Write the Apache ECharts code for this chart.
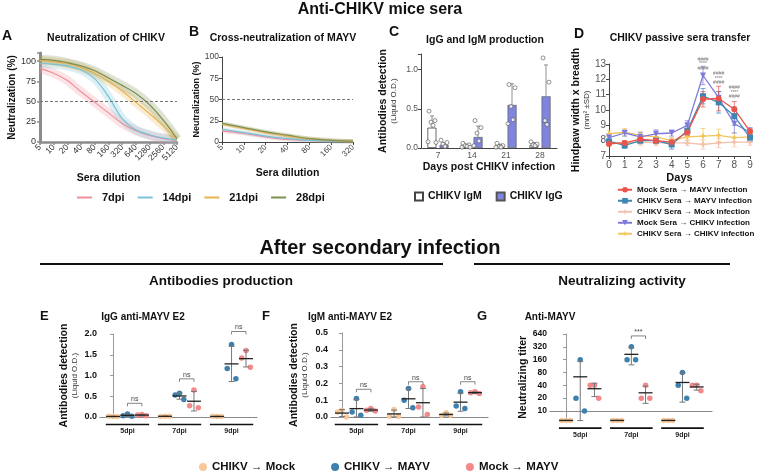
<!DOCTYPE html>
<html>
<head>
<meta charset="utf-8">
<script src="https://cdn.jsdelivr.net/npm/echarts@6/dist/echarts.min.js"></script>
<style>
html, body { margin: 0; padding: 0; background: #fff; }
#chart { width: 760px; height: 471px; }
</style>
</head>
<body>
<div id="chart"></div>
<script>
var FONT = '"Liberation Sans", Arial, Helvetica, sans-serif';

// A / B : neutralization curves (% neutralization per sera dilution)
var dilA = ['5', '10', '20', '40', '80', '160', '320', '640', '1280', '2560', '5120'];
var dilB = ['5', '10', '20', '40', '80', '160', '320'];
var dpiNames = ['7dpi', '14dpi', '21dpi', '28dpi'];
var dpiColors = ['#ee8f9b', '#79c2d6', '#e8b24e', '#7d8f52'];
var neutA7 = [91, 85, 76, 62, 49, 36, 23, 14, 8, 4, 2];
var neutA14 = [97, 96, 94, 89, 78, 56, 29, 15, 9, 5, 2];
var neutA21 = [101, 99, 97, 92, 85, 75, 63, 49, 35, 20, 3];
var neutA28 = [102, 101, 98, 94, 88, 79, 70, 60, 46, 27, 4];
var neutB7 = [13, 10, 6, 3, 2, 1, 0.5];
var neutB14 = [15, 11, 7, 4, 2, 1, 0.5];
var neutB21 = [21, 16, 11, 7, 4, 2, 1];
var neutB28 = [22, 17, 12, 8, 4, 2, 1];

// C : IgG / IgM (OD)
var cDays = ['7', '14', '21', '28'];
var cIgM = [0.26, 0.03, 0.03, 0.04];
var cIgMSd = [0.15, 0.02, 0.02, 0.03];
var cIgG = [0.04, 0.14, 0.55, 0.66];
var cIgGSd = [0.03, 0.14, 0.27, 0.40];
var cIgMPts = [[0.47, 0.35, 0.33, 0.29, 0.08, 0.07], [0.06, 0.04, 0.03, 0.02, 0.01, 0.01], [0.06, 0.03, 0.02, 0.01, 0.01], [0.08, 0.05, 0.04, 0.03]];
var cIgGPts = [[0.10, 0.07, 0.05, 0.02], [0.35, 0.26, 0.19, 0.09, 0.03], [0.81, 0.77, 0.53, 0.36, 0.31], [1.15, 0.84, 0.35, 0.30]];

// D : hindpaw swelling
var days = [0, 1, 2, 3, 4, 5, 6, 7, 8, 9];
var dMockMayv = [7.8, 7.85, 8.1, 8.0, 7.9, 8.55, 10.7, 10.75, 10.05, 8.6];
var dMockMayvSd = [0.15, 0.15, 0.2, 0.15, 0.2, 0.2, 0.5, 0.8, 0.5, 0.2];
var dChikvMayv = [7.95, 7.7, 8.0, 8.0, 7.75, 8.65, 10.9, 10.5, 9.6, 8.2];
var dChikvMayvSd = [0.15, 0.2, 0.2, 0.2, 0.3, 0.3, 0.5, 0.7, 0.6, 0.25];
var dChikvMock = [7.9, 7.85, 7.9, 7.85, 7.85, 7.85, 7.75, 7.85, 7.9, 7.9];
var dChikvMockSd = [0.15, 0.15, 0.2, 0.15, 0.15, 0.15, 0.3, 0.3, 0.3, 0.2];
var dMockChikv = [8.2, 8.5, 8.25, 8.45, 8.5, 9.0, 12.25, 10.8, 9.1, 8.55];
var dMockChikvSd = [0.2, 0.2, 0.3, 0.25, 0.2, 0.3, 0.6, 0.4, 0.6, 0.3];
var dChikvChikv = [8.45, 8.55, 8.35, 8.25, 8.0, 8.25, 8.3, 8.35, 8.2, 8.25];
var dChikvChikvSd = [0.2, 0.25, 0.2, 0.2, 0.2, 0.2, 0.5, 0.4, 0.3, 0.2];
var dSigDays = [6, 7, 8];
var dSigY = [13.0, 12.05, 11.15];

// E / F / G : after secondary infection, per group [5dpi, 7dpi, 9dpi]
var grpLabels = ['5dpi', '7dpi', '9dpi'];
var dotNames = ['CHIKV \u2192 Mock', 'CHIKV \u2192 MAYV', 'Mock \u2192 MAYV'];
var eMock = [[0.01, 0.02, 0.01], [0.02, 0.01, 0.02], [0.01, 0.02, 0.01]];
var eChikvMayv = [[0.07, 0.03, 0.02], [0.57, 0.53, 0.42], [1.75, 1.17, 0.92]];
var eMockMayv = [[0.06, 0.05, 0.03], [0.65, 0.27, 0.22], [1.60, 1.42, 1.20]];
var eNs = [0.33, 0.92, 2.06];
var fMock = [[0.04, 0.03, 0.0], [0.045, 0.005, 0.005], [0.025, 0.01, 0.01]];
var fChikvMayv = [[0.11, 0.03, 0.01], [0.17, 0.10, 0.055], [0.15, 0.065, 0.05]];
var fMockMayv = [[0.05, 0.04, 0.035], [0.18, 0.06, 0.015], [0.15, 0.145, 0.14]];
var fNs = [0.165, 0.21, 0.21];
// titers; 6 = below detection (drawn on the axis)
var gMock = [[6, 6, 6], [6, 6, 6], [6, 6, 6]];
var gChikvMayv = [[160, 20, 10], [320, 160, 160], [80, 40, 20]];
var gMockMayv = [[40, 40, 20], [40, 20, 20], [40, 40, 30]];
var gSigGroup = [1];
var gSigY = [5.85];
var gTickLabels = ['10', '20', '40', '80', '160', '320', '640'];

var GROUP_STEP = 3.6;
var jit = [0, -0.3, 0.3];
var cJit = [-3, 3, -1, 1, -4, 4];
var dotColors = ['#f8c89a', '#3d80ad', '#f2898a'];

function mean(a) { var s = 0; a.forEach(function (v) { s += v; }); return s / a.length; }
function sd(a) { var m = mean(a), s = 0; a.forEach(function (v) { s += (v - m) * (v - m); }); return Math.sqrt(s / (a.length - 1)); }
function bold(sz) { return { fontFamily: FONT, fontWeight: 'bold', fontSize: sz, color: '#111' }; }

var chart = echarts.init(document.getElementById('chart'));

var grid = [
  { left: 40, top: 53, width: 137, height: 89 },
  { left: 222, top: 57, width: 131, height: 85 },
  { left: 421, top: 54, width: 136, height: 94 },
  { left: 609, top: 64, width: 141, height: 92 },
  { left: 100, top: 334, width: 157, height: 83 },
  { left: 331, top: 333, width: 157, height: 84 },
  { left: 550, top: 334, width: 162, height: 86.6 }
];

var grayAxis = { lineStyle: { color: '#8c8c8c', width: 2.5 } };
var thinAxis = { lineStyle: { color: '#444', width: 1 } };
var lbl = function (sz, col) { return { fontFamily: FONT, fontSize: sz, color: col || '#444' }; };

var xAxis = [
  { gridIndex: 0, type: 'category', data: dilA, boundaryGap: false, axisLine: grayAxis,
    axisTick: { length: 3, lineStyle: { color: '#8c8c8c', width: 1.5 } },
    axisLabel: Object.assign(lbl(8.5, '#333'), { rotate: 45, margin: 4, interval: 0 }),
    name: 'Sera dilution', nameLocation: 'middle', nameGap: 31, nameTextStyle: bold(10.5) },
  { gridIndex: 1, type: 'category', data: dilB, boundaryGap: false, axisLine: thinAxis,
    axisTick: { length: 3 }, axisLabel: Object.assign(lbl(8), { rotate: 45, margin: 4, interval: 0 }),
    name: 'Sera dilution', nameLocation: 'middle', nameGap: 26, nameTextStyle: bold(10.5) },
  { gridIndex: 2, type: 'category', data: cDays, axisLine: thinAxis,
    axisTick: { alignWithLabel: true, length: 3 }, axisLabel: Object.assign(lbl(8.5, '#555'), { margin: 3 }),
    name: 'Days post CHIKV infection', nameLocation: 'middle', nameGap: 14, nameTextStyle: bold(10.5) },
  { gridIndex: 3, type: 'value', min: 0, max: 9, interval: 1, axisLine: thinAxis, splitLine: { show: false },
    axisTick: { length: 3 }, axisLabel: Object.assign(lbl(10, '#555'), { margin: 4 }),
    name: 'Days', nameLocation: 'middle', nameGap: 16, nameTextStyle: bold(11) },
  { gridIndex: 4, type: 'value', min: -0.9, max: 9.96, axisLine: { lineStyle: { color: '#888', width: 1.2 } },
    axisTick: { show: false }, axisLabel: { show: false }, splitLine: { show: false } },
  { gridIndex: 5, type: 'value', min: -0.76, max: 10.1, axisLine: { lineStyle: { color: '#888', width: 1.2 } },
    axisTick: { show: false }, axisLabel: { show: false }, splitLine: { show: false } },
  { gridIndex: 6, type: 'value', min: -1.13, max: 10.28, axisLine: { lineStyle: { color: '#888', width: 1.2 } },
    axisTick: { show: false }, axisLabel: { show: false }, splitLine: { show: false } }
];

function twoLine(a, b, sa, sb) {
  return { name: '{a|' + a + '}\n{b|' + b + '}', nameLocation: 'middle', nameRotate: 90,
    nameTextStyle: { fontFamily: FONT, color: '#111', rich: {
      a: { fontFamily: FONT, fontWeight: 'bold', fontSize: sa, color: '#111', lineHeight: sa + 1 },
      b: { fontFamily: FONT, fontSize: sb, color: '#333', lineHeight: sb + 2 } } } };
}

var yAxis = [
  { gridIndex: 0, type: 'value', min: 0, max: 110, interval: 25, axisLine: { show: true, lineStyle: { color: '#8c8c8c', width: 3 } },
    axisTick: { show: true, length: 3, lineStyle: { color: '#8c8c8c', width: 1.5 } }, splitLine: { show: false },
    axisLabel: Object.assign(lbl(9, '#333'), { margin: 4, formatter: function (v) { return v <= 100 ? String(v) : ''; } }),
    name: 'Neutralization (%)', nameLocation: 'middle', nameRotate: 90, nameGap: 21, nameTextStyle: bold(10) },
  { gridIndex: 1, type: 'value', min: 0, max: 100, interval: 25, axisLine: Object.assign({ show: true }, thinAxis),
    axisTick: { show: true, length: 3 }, splitLine: { show: false }, axisLabel: Object.assign(lbl(8.5), { margin: 3 }),
    name: 'Neutralization (%)', nameLocation: 'middle', nameRotate: 90, nameGap: 21, nameTextStyle: bold(9) },
  Object.assign({ gridIndex: 2, type: 'value', min: 0, max: 1.2, interval: 0.5, axisLine: Object.assign({ show: true }, thinAxis),
    axisTick: { show: true, length: 3 }, splitLine: { show: false },
    axisLabel: Object.assign(lbl(8.5, '#555'), { margin: 3, formatter: function (v) { return (v === 0 || v === 0.5 || v === 1) ? v.toFixed(1) : ''; } }),
    nameGap: 22 }, twoLine('Antibodies detection', '(Liquid O.D.)', 10.5, 8)),
  Object.assign({ gridIndex: 3, type: 'value', min: 7, max: 13, interval: 1, axisLine: Object.assign({ show: true }, thinAxis),
    axisTick: { show: true, length: 3 }, splitLine: { show: false }, axisLabel: Object.assign(lbl(10, '#555'), { margin: 3 }),
    nameGap: 14 }, twoLine('Hindpaw width x breadth', '(mm\u00b2 \u00b1SD)', 10.5, 8)),
  Object.assign({ gridIndex: 4, type: 'value', min: 0, max: 2, interval: 0.5, axisLine: { show: true, lineStyle: { color: '#999' } },
    axisTick: { show: true, length: 3 }, splitLine: { show: false },
    axisLabel: Object.assign(bold(9), { margin: 3, formatter: function (v) { return v.toFixed(1); } }),
    nameGap: 20 }, twoLine('Antibodies detection', '(Liquid O.D.)', 10.5, 8)),
  Object.assign({ gridIndex: 5, type: 'value', min: 0, max: 0.5, interval: 0.1, axisLine: { show: true, lineStyle: { color: '#999' } },
    axisTick: { show: true, length: 3 }, splitLine: { show: false },
    axisLabel: Object.assign(bold(9), { margin: 3, formatter: function (v) { return v.toFixed(1); } }),
    nameGap: 21 }, twoLine('Antibodies detection', '(Liquid O.D.)', 10.5, 8)),
  { gridIndex: 6, type: 'value', min: -0.75, max: 6, splitNumber: 7, axisLine: { show: true, lineStyle: { color: '#999' } },
    axisTick: { show: true, length: 3 }, splitLine: { show: false },
    axisLabel: Object.assign(bold(8.5), { margin: 3, formatter: function (v) { return gTickLabels[v] || ''; } }),
    name: 'Neutralizing titer', nameLocation: 'middle', nameRotate: 90, nameGap: 19, nameTextStyle: bold(10.5) }
];

var series = [];

// A & B
[[neutA7, neutA14, neutA21, neutA28], [neutB7, neutB14, neutB21, neutB28]].forEach(function (sets, p) {
  sets.forEach(function (vals, i) {
    series.push({ type: 'line', name: dpiNames[i], xAxisIndex: p, yAxisIndex: p, data: vals, smooth: 0.4,
      symbol: 'none', lineStyle: { color: dpiColors[i], width: 1.2 }, itemStyle: { color: dpiColors[i] }, z: 3,
      markLine: i === 0 ? { silent: true, symbol: 'none', label: { show: false },
        lineStyle: { color: '#777', type: [3, 2], width: 1 }, data: [{ yAxis: 50 }] } : undefined });
    series.push({ type: 'line', name: dpiNames[i], xAxisIndex: p, yAxisIndex: p, data: vals, smooth: 0.4,
      symbol: 'none', silent: true, lineStyle: { color: dpiColors[i], width: p === 0 ? 9 : 4, opacity: 0.25, cap: 'butt' },
      itemStyle: { color: dpiColors[i] }, z: 1 });
  });
});

// C
function barErr(off) {
  return function (params, api) {
    var c = api.value(0), m = api.value(1), s = api.value(2);
    var p0 = api.coord([c, m]), p1 = api.coord([c, m + s]);
    var x = p0[0] + off, st = { stroke: '#777', lineWidth: 0.8 };
    return { type: 'group', children: [
      { type: 'line', shape: { x1: x, y1: p0[1], x2: x, y2: p1[1] }, style: st },
      { type: 'line', shape: { x1: x - 2, y1: p1[1], x2: x + 2, y2: p1[1] }, style: st }
    ] };
  };
}
function cPoints(pts, off) {
  var out = [];
  pts.forEach(function (vals, c) {
    vals.forEach(function (v, i) { out.push({ value: [c, v], symbolOffset: [off + cJit[i], 0] }); });
  });
  return out;
}
series.push({ type: 'bar', name: 'CHIKV IgM', xAxisIndex: 2, yAxisIndex: 2, data: cIgM, barWidth: 9, barGap: '35%',
  itemStyle: { color: '#fff', borderColor: '#444', borderWidth: 0.8 }, z: 2 });
series.push({ type: 'bar', name: 'CHIKV IgG', xAxisIndex: 2, yAxisIndex: 2, data: cIgG, barWidth: 9, barGap: '35%',
  itemStyle: { color: '#7f85dc', borderColor: '#555', borderWidth: 0.6 }, z: 2 });
series.push({ type: 'custom', xAxisIndex: 2, yAxisIndex: 2, silent: true, z: 3, renderItem: barErr(-6),
  data: cIgM.map(function (v, i) { return [i, v, cIgMSd[i]]; }) });
series.push({ type: 'custom', xAxisIndex: 2, yAxisIndex: 2, silent: true, z: 3, renderItem: barErr(6),
  data: cIgG.map(function (v, i) { return [i, v, cIgGSd[i]]; }) });
[[cIgMPts, -6], [cIgGPts, 6]].forEach(function (s) {
  series.push({ type: 'scatter', xAxisIndex: 2, yAxisIndex: 2, data: cPoints(s[0], s[1]), symbolSize: 4, silent: true,
    itemStyle: { color: '#fff', borderColor: '#555', borderWidth: 0.8 }, z: 4 });
});

// D
function errRender(color) {
  return function (params, api) {
    var x = api.value(0), m = api.value(1), s = api.value(2);
    var top = api.coord([x, m + s]), bot = api.coord([x, m - s]);
    var st = { stroke: color, lineWidth: 0.9, opacity: 0.8 };
    return { type: 'group', children: [
      { type: 'line', shape: { x1: top[0], y1: top[1], x2: bot[0], y2: bot[1] }, style: st },
      { type: 'line', shape: { x1: top[0] - 2.5, y1: top[1], x2: top[0] + 2.5, y2: top[1] }, style: st },
      { type: 'line', shape: { x1: bot[0] - 2.5, y1: bot[1], x2: bot[0] + 2.5, y2: bot[1] }, style: st }
    ] };
  };
}
var dNames = ['Mock Sera \u2192 MAYV infection', 'CHIKV Sera \u2192 MAYV infection', 'CHIKV Sera \u2192 Mock infection',
  'Mock Sera \u2192 CHIKV infection', 'CHIKV Sera \u2192 CHIKV infection'];
var star = 'path://M0,-10L3,-3L10,0L3,3L0,10L-3,3L-10,0L-3,-3Z';
var dSets = [
  { name: dNames[4], data: dChikvChikv, sd: dChikvChikvSd, color: '#f2c65a', symbol: star, size: 7 },
  { name: dNames[2], data: dChikvMock, sd: dChikvMockSd, color: '#f3c1ad', symbol: star, size: 7 },
  { name: dNames[3], data: dMockChikv, sd: dMockChikvSd, color: '#7f79db', symbol: 'path://M-10,-8L10,-8L0,10Z', size: 6 },
  { name: dNames[1], data: dChikvMayv, sd: dChikvMayvSd, color: '#3f86b2', symbol: 'rect', size: 6 },
  { name: dNames[0], data: dMockMayv, sd: dMockMayvSd, color: '#e9544b', symbol: 'circle', size: 6 }
];
dSets.forEach(function (s) {
  series.push({ type: 'custom', xAxisIndex: 3, yAxisIndex: 3, silent: true, z: 2, renderItem: errRender(s.color),
    data: days.map(function (d, i) { return [d, s.data[i], s.sd[i]]; }) });
  series.push({ type: 'line', name: s.name, xAxisIndex: 3, yAxisIndex: 3, symbol: s.symbol, symbolSize: s.size,
    data: days.map(function (d, i) { return [d, s.data[i]]; }),
    lineStyle: { color: s.color, width: 1.3 }, itemStyle: { color: s.color }, z: 3 });
});
series.push({ type: 'scatter', xAxisIndex: 3, yAxisIndex: 3, symbolSize: 1, clip: false, silent: true,
  itemStyle: { color: 'rgba(0,0,0,0)' },
  data: dSigDays.map(function (d, i) { return [d, dSigY[i]]; }),
  label: { show: true, position: 'inside', formatter: '####\n****\n####', fontFamily: FONT, fontSize: 5, lineHeight: 4.5, color: '#555' } });

// E / F / G
function meanSdRender(params, api) {
  var x = api.value(0);
  var pm = api.coord([x, api.value(1)]), plo = api.coord([x, api.value(2)]), phi = api.coord([x, api.value(3)]);
  var st = { stroke: '#777', lineWidth: 1 };
  return { type: 'group', children: [
    { type: 'line', shape: { x1: pm[0], y1: plo[1], x2: pm[0], y2: phi[1] }, style: st },
    { type: 'line', shape: { x1: pm[0] - 3, y1: plo[1], x2: pm[0] + 3, y2: plo[1] }, style: st },
    { type: 'line', shape: { x1: pm[0] - 3, y1: phi[1], x2: pm[0] + 3, y2: phi[1] }, style: st },
    { type: 'line', shape: { x1: pm[0] - 7, y1: pm[1], x2: pm[0] + 7, y2: pm[1] }, style: { stroke: '#222', lineWidth: 1.3 } }
  ] };
}
function bracketRender(text) {
  return function (params, api) {
    var g = api.value(0), y = api.value(1);
    var a = api.coord([g * GROUP_STEP + 1, y]), b = api.coord([g * GROUP_STEP + 2, y]);
    return { type: 'group', children: [
      { type: 'polyline', shape: { points: [[a[0], a[1] + 3], [a[0], a[1]], [b[0], b[1]], [b[0], b[1] + 3]] },
        style: { stroke: '#666', lineWidth: 0.8, fill: null } },
      { type: 'text', style: { text: text, x: (a[0] + b[0]) / 2, y: a[1] - 0.5, align: 'center', verticalAlign: 'bottom',
        font: '7px ' + FONT, fill: '#444' } }
    ] };
  };
}
function grpRender(params, api) {
  var g = api.value(0), c = g * GROUP_STEP + 1;
  var a = api.coord([c - 1.5, api.value(1)]), b = api.coord([c + 1.5, api.value(1)]);
  var y = a[1] + 7.5;
  return { type: 'group', children: [
    { type: 'line', shape: { x1: a[0], y1: y, x2: b[0], y2: y }, style: { stroke: '#111', lineWidth: 1.6 } },
    { type: 'text', style: { text: grpLabels[g], x: (a[0] + b[0]) / 2, y: y + 3, align: 'center', verticalAlign: 'top',
      font: 'bold 7px ' + FONT, fill: '#222' } }
  ] };
}
function dotPanel(ax, sets, yMap, yFloor, sigGroups, sigY, sigText) {
  sets.forEach(function (groups, k) {
    var pts = [], stats = [];
    groups.forEach(function (vals, g) {
      var x0 = g * GROUP_STEP + k;
      vals.forEach(function (v, i) { pts.push([x0 + jit[i], yMap(v)]); });
      var m = mean(vals), s = sd(vals);
      stats.push([x0, yMap(m), m - s > 0 ? Math.max(yMap(m - s), yFloor) : yFloor, yMap(m + s)]);
    });
    series.push({ type: 'scatter', name: dotNames[k], xAxisIndex: ax, yAxisIndex: ax, data: pts, symbolSize: 5.5,
      itemStyle: { color: dotColors[k], opacity: 1 }, z: 3 });
    series.push({ type: 'custom', xAxisIndex: ax, yAxisIndex: ax, data: stats, renderItem: meanSdRender, silent: true, z: 4 });
  });
  series.push({ type: 'custom', xAxisIndex: ax, yAxisIndex: ax, silent: true, z: 4, renderItem: bracketRender(sigText),
    data: sigGroups.map(function (g, i) { return [g, sigY[i]]; }) });
  series.push({ type: 'custom', xAxisIndex: ax, yAxisIndex: ax, silent: true, z: 4, renderItem: grpRender,
    data: [[0, yFloor], [1, yFloor], [2, yFloor]] });
}
var ident = function (v) { return v; };
var log2t = function (v) { return Math.log2(v / 10); };
dotPanel(4, [eMock, eChikvMayv, eMockMayv], ident, 0, [0, 1, 2], eNs, 'ns');
dotPanel(5, [fMock, fChikvMayv, fMockMayv], ident, 0, [0, 1, 2], fNs, 'ns');
dotPanel(6, [gMock, gChikvMayv, gMockMayv], log2t, -0.75, gSigGroup, gSigY, '***');

// texts and rules
function T(str, x, y, sz, align) {
  return { type: 'text', x: x, y: y, silent: true, style: { text: str, align: align || 'center', verticalAlign: 'middle',
    font: 'bold ' + sz + 'px ' + FONT, fill: '#111' } };
}
function L(x1, y1, x2, y2, w) {
  return { type: 'line', silent: true, shape: { x1: x1, y1: y1, x2: x2, y2: y2 }, style: { stroke: '#111', lineWidth: w } };
}
var graphic = [
  T('Anti-CHIKV mice sera', 380, 10, 16),
  T('A', 2, 36, 14, 'left'), T('Neutralization of CHIKV', 106, 38, 10.5),
  T('B', 189, 32, 14, 'left'), T('Cross-neutralization of MAYV', 283, 38, 10.5),
  T('C', 389, 32, 14, 'left'), T('IgG and IgM production', 485, 40, 10.5),
  T('D', 574, 34, 14, 'left'), T('CHIKV passive sera transfer', 680, 38, 10.5),
  T('After secondary infection', 380, 248, 20),
  L(40, 264, 443, 264, 2), L(474, 264, 730, 264, 2),
  T('Antibodies production', 221, 281, 13.5), T('Neutralizing activity', 622, 281, 13.5),
  T('E', 40, 316, 13, 'left'), T('IgG anti-MAYV E2', 143, 317, 10),
  T('F', 262, 316, 13, 'left'), T('IgM anti-MAYV E2', 350, 317, 10),
  T('G', 477, 316, 13, 'left'), T('Anti-MAYV', 550, 317, 10)
];

var legTxt = function (sz) { return { fontFamily: FONT, fontWeight: 'bold', fontSize: sz, color: '#111' }; };
var legend = [
  { data: dpiNames, left: 77, top: 192, padding: 0, icon: 'rect', itemWidth: 15, itemHeight: 2, itemGap: 13, selectedMode: false,
    textStyle: Object.assign(legTxt(11), { padding: [0, 0, 0, 5] }) },
  { data: ['CHIKV IgM', 'CHIKV IgG'], left: 414, top: 191, padding: 0, icon: 'rect', itemWidth: 8, itemHeight: 8, itemGap: 14,
    selectedMode: false, textStyle: legTxt(10.5) },
  { data: dNames, orient: 'vertical', left: 617, top: 185, padding: 0, itemWidth: 14, itemHeight: 7, itemGap: 1.5, selectedMode: false,
    textStyle: Object.assign(legTxt(8), { lineHeight: 9.5 }) },
  { data: dotNames, left: 199, top: 461, padding: 0, icon: 'circle', itemWidth: 8, itemHeight: 8, itemGap: 36, selectedMode: false,
    textStyle: legTxt(11.5) }
];

chart.setOption({
  animation: false,
  backgroundColor: '#fff',
  textStyle: { fontFamily: FONT },
  grid: grid,
  xAxis: xAxis,
  yAxis: yAxis,
  legend: legend,
  graphic: graphic,
  series: series
});

window.onresize = function () { chart.resize(); };
</script>
</body>
</html>
